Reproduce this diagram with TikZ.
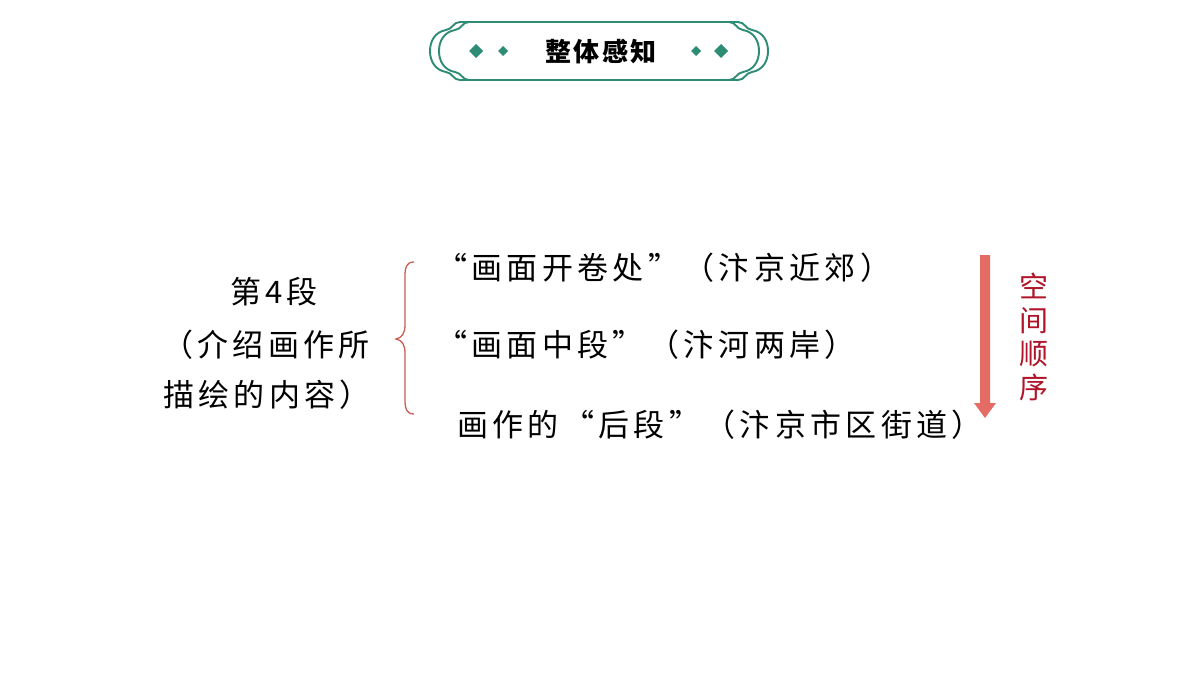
\documentclass[tikz,border=0pt]{standalone}
\usepackage{fontspec}
\setmainfont{Noto Sans CJK SC}
\definecolor{teal1}{RGB}{46,140,118}
\definecolor{brace}{RGB}{200,95,85}
\definecolor{arrowc}{RGB}{228,108,100}
\definecolor{darkred}{RGB}{175,20,40}
\tikzset{
  frame/.style={draw=teal1, line width=1.9pt},
  dia/.style={fill=teal1, draw=none},
  body/.style={font=\fontsize{31}{36}\selectfont\addfontfeature{LetterSpace=14}, text=black, inner sep=0pt},
}
\begin{document}
\begin{tikzpicture}[x=1pt,y=-1pt]
\useasboundingbox[fill=white] (0,0) rectangle (1200,675);
% header frames
\foreach \dx in {0,9}{
  \draw[frame] ({470+\dx},22) -- ({460+\dx},22) .. controls ({453+\dx},22) and ({453+\dx},29) .. ({446+\dx},30)
     .. controls ({435+\dx},32) and ({430+\dx},41) .. ({430+\dx},51)
     .. controls ({430+\dx},61) and ({435+\dx},70) .. ({446+\dx},72)
     .. controls ({453+\dx},73) and ({453+\dx},80) .. ({460+\dx},80) -- ({470+\dx},80);
  \draw[frame] ({728-\dx},22) -- ({738-\dx},22) .. controls ({745-\dx},22) and ({745-\dx},29) .. ({752-\dx},30)
     .. controls ({763-\dx},32) and ({768-\dx},41) .. ({768-\dx},51)
     .. controls ({768-\dx},61) and ({763-\dx},70) .. ({752-\dx},72)
     .. controls ({745-\dx},73) and ({745-\dx},80) .. ({738-\dx},80) -- ({728-\dx},80);
}
\draw[frame] (470,22) -- (728,22);
\draw[frame] (470,80) -- (728,80);
\fill[dia] (476,44) -- (483,51) -- (476,58) -- (469,51) -- cycle;
\fill[dia] (503,46) -- (508,51) -- (503,56) -- (498,51) -- cycle;
\fill[dia] (696,46) -- (701,51) -- (696,56) -- (691,51) -- cycle;
\fill[dia] (721,44) -- (728,51) -- (721,58) -- (714,51) -- cycle;
\node[font=\fontsize{26}{30}\selectfont\bfseries\addfontfeature{LetterSpace=8}, inner sep=0pt] (title) at (601,52) {整体感知};
% left block
\node[body, anchor=center] (l1) at (274,292) {第4段};
\node[body, anchor=west] (l2) at (162,345) {（介绍画作所};
\node[body, anchor=west] (l3) at (163,395) {描绘的内容）};
% brace
\draw[brace, line width=1.3pt, draw=brace]
  (414,262) .. controls (406,262) and (405,268) .. (405,276) -- (405,325)
  .. controls (405,333) and (402,338) .. (396,339)
  .. controls (402,340) and (405,345) .. (405,353) -- (405,400)
  .. controls (405,408) and (406,414) .. (414,414);
% items
\node[body, anchor=west] (i1) at (436,268) {“画面开卷处”（汴京近郊）};
\node[body, anchor=west] (i2) at (436,345) {“画面中段”（汴河两岸）};
\node[body, anchor=west] (i3) at (457,425) {画作的“后段”（汴京市区街道）};
% arrow
\coordinate (as) at (985,255);
\coordinate (ae) at (985,418);
\fill[arrowc] (980,255) -- (990,255) -- (990,403) -- (996,403) -- (985,418) -- (974,403) -- (980,403) -- cycle;
\node[font=\fontsize{29}{33.5}\selectfont, text=darkred, align=center, inner sep=0pt] (v) at (1034,337) {空\\间\\顺\\序};
\end{tikzpicture}
\end{document}
